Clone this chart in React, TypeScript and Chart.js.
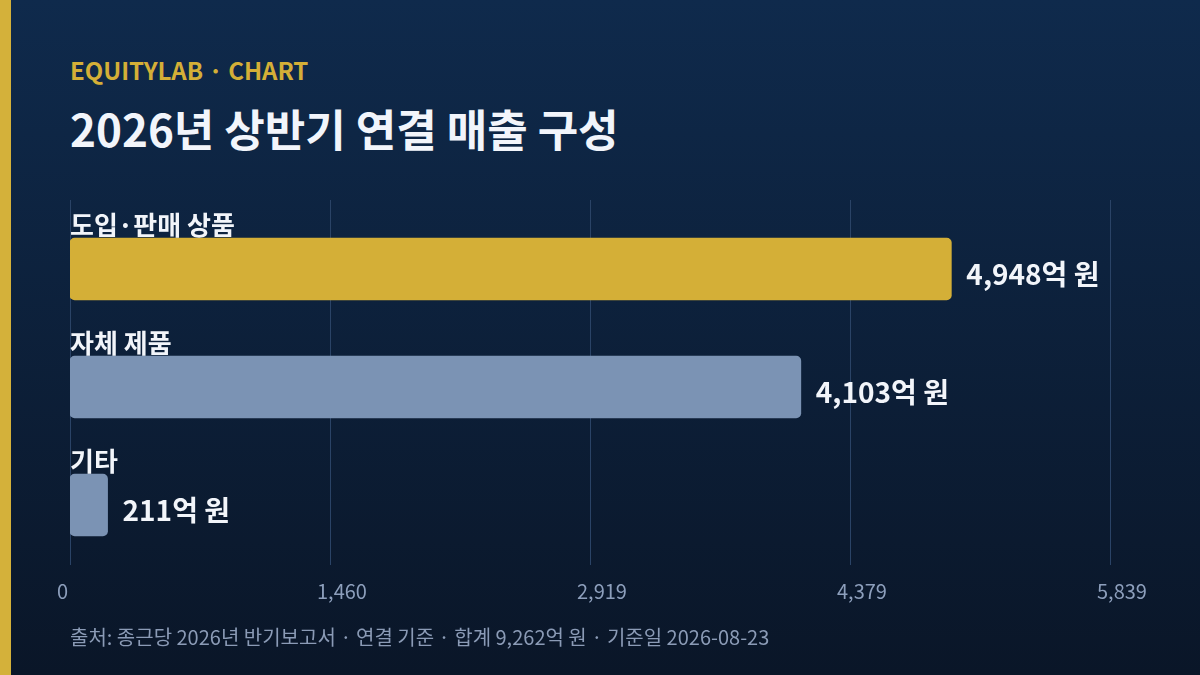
import React, { useEffect, useRef } from "react";
import { Chart, registerables } from "chart.js";

Chart.register(...registerables);

const categories = ["도입·판매 상품", "자체 제품", "기타"];
const values = [4948, 4103, 211];
const barColors = ["#d4af37", "#7b93b4", "#7b93b4"];
const xMax = 5838.64;
const tickValues = [0, 1459.66, 2919.32, 4378.98, 5838.64];
const valueUnit = "억 원";

const FONT = '"Noto Sans CJK KR", "Noto Sans", sans-serif';

const fmt = (v: number) => Math.round(v).toLocaleString("en-US");

export default function App() {
  const canvasRef = useRef<HTMLCanvasElement | null>(null);

  useEffect(() => {
    const canvas = canvasRef.current;
    if (!canvas) return;

    const overlay = {
      id: "overlay",
      beforeDatasetsDraw(chart: any) {
        const { ctx, chartArea, scales } = chart;
        const x = scales.x;
        ctx.save();
        ctx.strokeStyle = "#2a4366";
        ctx.lineWidth = 1;
        tickValues.forEach((v) => {
          const px = Math.round(x.getPixelForValue(v)) + 0.5;
          ctx.beginPath();
          ctx.moveTo(px, chartArea.top - 10);
          ctx.lineTo(px, chartArea.bottom + 1);
          ctx.stroke();
        });
        ctx.restore();
      },
      afterDatasetsDraw(chart: any) {
        const { ctx, chartArea } = chart;
        const meta = chart.getDatasetMeta(0);
        ctx.save();
        meta.data.forEach((bar: any, i: number) => {
          const { x, y, height } = bar.getProps(["x", "y", "height"], true);
          ctx.fillStyle = "#f2f5fa";
          ctx.textAlign = "left";
          ctx.textBaseline = "alphabetic";
          ctx.font = `bold 26px ${FONT}`;
          ctx.fillText(categories[i], chartArea.left, y - height / 2 - 3);
          ctx.font = `bold 28px ${FONT}`;
          ctx.fillText(fmt(values[i]) + valueUnit, x + 15, y + 16);
        });
        ctx.restore();
      },
    };

    const chart = new Chart(canvas, {
      type: "bar",
      data: {
        labels: categories,
        datasets: [
          {
            data: values,
            backgroundColor: barColors,
            borderRadius: 5,
            borderSkipped: false,
            barThickness: 62,
          },
        ],
      },
      options: {
        indexAxis: "y",
        animation: false,
        responsive: false,
        maintainAspectRatio: false,
        devicePixelRatio: 1,
        layout: { padding: { left: 70, right: 90, top: 210, bottom: 71 } },
        plugins: { legend: { display: false }, tooltip: { enabled: false } },
        scales: {
          y: { display: false },
          x: {
            min: 0,
            max: xMax,
            grid: { display: false, drawTicks: false },
            border: { display: false },
            afterBuildTicks: (s: any) => {
              s.ticks = tickValues.map((v) => ({ value: v }));
            },
            afterFit: (s: any) => {
              s.height = 40;
            },
            ticks: {
              autoSkip: false,
              maxRotation: 0,
              align: "start",
              labelOffset: -13,
              padding: 15,
              color: "#8d9fbc",
              font: { family: FONT, size: 20 },
              callback: (v: any) => fmt(Number(v)),
            },
          },
        },
      },
      plugins: [overlay],
    } as any);

    return () => chart.destroy();
  }, []);

  return (
    <div
      style={{
        position: "fixed",
        left: 0,
        top: 0,
        width: 1200,
        height: 675,
        background: "linear-gradient(180deg, #0f2a4c 0%, #0a1628 100%)",
        overflow: "hidden",
        fontFamily: FONT,
      }}
    >
      <div style={{ position: "absolute", left: 0, top: 0, width: 11, height: 675, background: "#d4b13a" }} />
      <div
        style={{
          position: "absolute",
          left: 70,
          top: 58,
          fontSize: 24,
          lineHeight: 1,
          fontWeight: 700,
          color: "#d4af37",
          whiteSpace: "nowrap",
        }}
      >
        EQUITYLAB · CHART
      </div>
      <div
        style={{
          position: "absolute",
          left: 70,
          top: 106,
          fontSize: 44,
          lineHeight: 1,
          fontWeight: 700,
          color: "#f2f5fb",
          whiteSpace: "nowrap",
        }}
      >
        2026년 상반기 연결 매출 구성
      </div>
      <canvas
        ref={canvasRef}
        width={1200}
        height={675}
        style={{ position: "absolute", left: 0, top: 0, width: 1200, height: 675 }}
      />
      <div
        style={{
          position: "absolute",
          left: 70,
          top: 627,
          fontSize: 20,
          lineHeight: 1,
          color: "#8b9bb6",
          whiteSpace: "nowrap",
        }}
      >
        출처: 종근당 2026년 반기보고서 · 연결 기준 · 합계 9,262억 원 · 기준일 2026-08-23
      </div>
    </div>
  );
}
